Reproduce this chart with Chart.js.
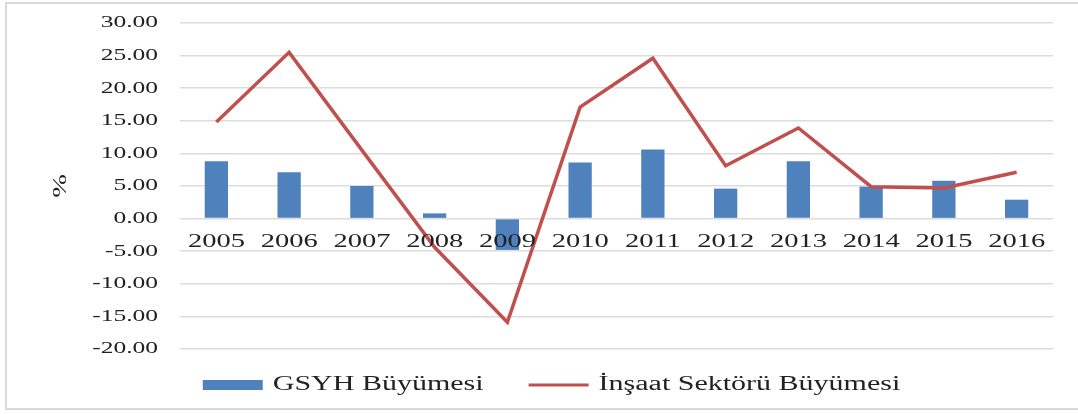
<!DOCTYPE html>
<html>
<head>
<meta charset="utf-8">
<script src="https://cdn.jsdelivr.net/npm/chart.js@4.4.1/dist/chart.umd.min.js"></script>
<style>
  html, body { margin: 0; padding: 0; background: #fff; overflow: hidden; }
  #frame {
    position: absolute; left: 5px; top: 2px; width: 1090px; height: 408px;
    border: 2px solid #d9d9d9; box-sizing: border-box;
  }
  #wrap { position: absolute; left: 0; top: 0; width: 1078px; height: 414px; }
</style>
</head>
<body>
<div id="frame"></div>
<div id="wrap"><canvas id="chart"></canvas></div>
<script>
// data
const years = ['2005', '2006', '2007', '2008', '2009', '2010', '2011', '2012', '2013', '2014', '2015', '2016'];
const gsyhGrowth = [8.8, 7.1, 5.0, 0.8, -4.8, 8.6, 10.6, 4.6, 8.8, 4.9, 5.8, 2.9];
const insaatGrowth = [14.8, 25.5, 10.5, -4.4, -15.9, 17.1, 24.6, 8.1, 13.9, 4.9, 4.7, 7.1];

const BLUE = '#4f81bd';
const RED = '#c0504d';
const TEXT = '#222222';
const GRID = '#dcdcdc';
const FONT = "'Liberation Serif', 'Times New Roman', serif";
const TEXT_STRETCH = 1.5;   // the reference text is drawn horizontally stretched

const ctx = document.getElementById('chart').getContext('2d');

// widen every text run on this canvas (drawing and measuring) by TEXT_STRETCH
(function stretchText(c, sx) {
  const fill = c.fillText.bind(c);
  const measure = c.measureText.bind(c);
  c.fillText = function (text, x, y) {
    c.save();
    c.translate(x, y);
    c.scale(sx, 1);
    fill(text, 0, 0);
    c.restore();
  };
  c.measureText = function (text) {
    const m = measure(text);
    return {
      width: m.width * sx,
      actualBoundingBoxAscent: m.actualBoundingBoxAscent,
      actualBoundingBoxDescent: m.actualBoundingBoxDescent,
      actualBoundingBoxLeft: m.actualBoundingBoxLeft * sx,
      actualBoundingBoxRight: m.actualBoundingBoxRight * sx
    };
  };
})(ctx, TEXT_STRETCH);

// legend padding is wide (for the gap between items), pull the row back up
const legendLift = {
  id: 'legendLift',
  afterLayout(chart) {
    const l = chart.legend;
    if (!l) return;
    l.top -= 19;
  }
};

new Chart(ctx, {
  data: {
    labels: years,
    datasets: [
      {
        type: 'bar',
        label: 'GSYH Büyümesi',
        data: gsyhGrowth,
        backgroundColor: BLUE,
        borderWidth: 0,
        categoryPercentage: 1,
        barPercentage: 0.32,
        order: 1
      },
      {
        type: 'line',
        label: 'İnşaat Sektörü Büyümesi',
        data: insaatGrowth,
        borderColor: RED,
        backgroundColor: RED,
        borderWidth: 3.5,
        pointRadius: 0,
        tension: 0,
        order: 0
      }
    ]
  },
  options: {
    responsive: true,
    maintainAspectRatio: false,
    animation: false,
    layout: {
      padding: { top: 23, left: 50, right: 25, bottom: 9 }
    },
    plugins: {
      tooltip: { enabled: false },
      legend: {
        position: 'bottom',
        maxHeight: 56,
        labels: {
          color: TEXT,
          font: { family: FONT, size: 20 },
          usePointStyle: true,
          pointStyleWidth: 60,
          boxHeight: 10,
          padding: 45,
          sort: (a, b) => a.datasetIndex - b.datasetIndex,
          generateLabels(chart) {
            return chart.data.datasets.map((ds, i) => ({
              text: ds.label,
              datasetIndex: i,
              fillStyle: ds.type === 'bar' ? BLUE : RED,
              strokeStyle: ds.type === 'bar' ? BLUE : RED,
              lineWidth: ds.type === 'bar' ? 0 : 3,
              pointStyle: ds.type === 'bar' ? 'rect' : 'line',
              fontColor: TEXT,
              hidden: false
            }));
          }
        }
      }
    },
    scales: {
      x: {
        position: { y: 0 },
        offset: true,
        grid: { display: false, drawTicks: false },
        border: { display: false },
        ticks: {
          z: 1,   // year labels sit on top of the bars, as in the reference
          color: TEXT,
          font: { family: FONT, size: 19 },
          padding: 12,
          maxRotation: 0,
          autoSkip: false
        }
      },
      y: {
        min: -20,
        max: 30,
        afterFit(scale) { scale.width = 130; },
        grid: { color: GRID, lineWidth: 1.5, tickLength: 19, tickColor: 'rgba(0,0,0,0)' },
        border: { display: false },
        ticks: {
          stepSize: 5,
          color: TEXT,
          font: { family: FONT, size: 17 },
          padding: 3,
          callback: v => v.toFixed(2)
        },
        title: {
          display: true,
          text: '%',
          color: TEXT,
          font: { family: FONT, size: 19 },
          padding: 0
        }
      }
    }
  },
  plugins: [legendLift]
});
</script>
</body>
</html>
